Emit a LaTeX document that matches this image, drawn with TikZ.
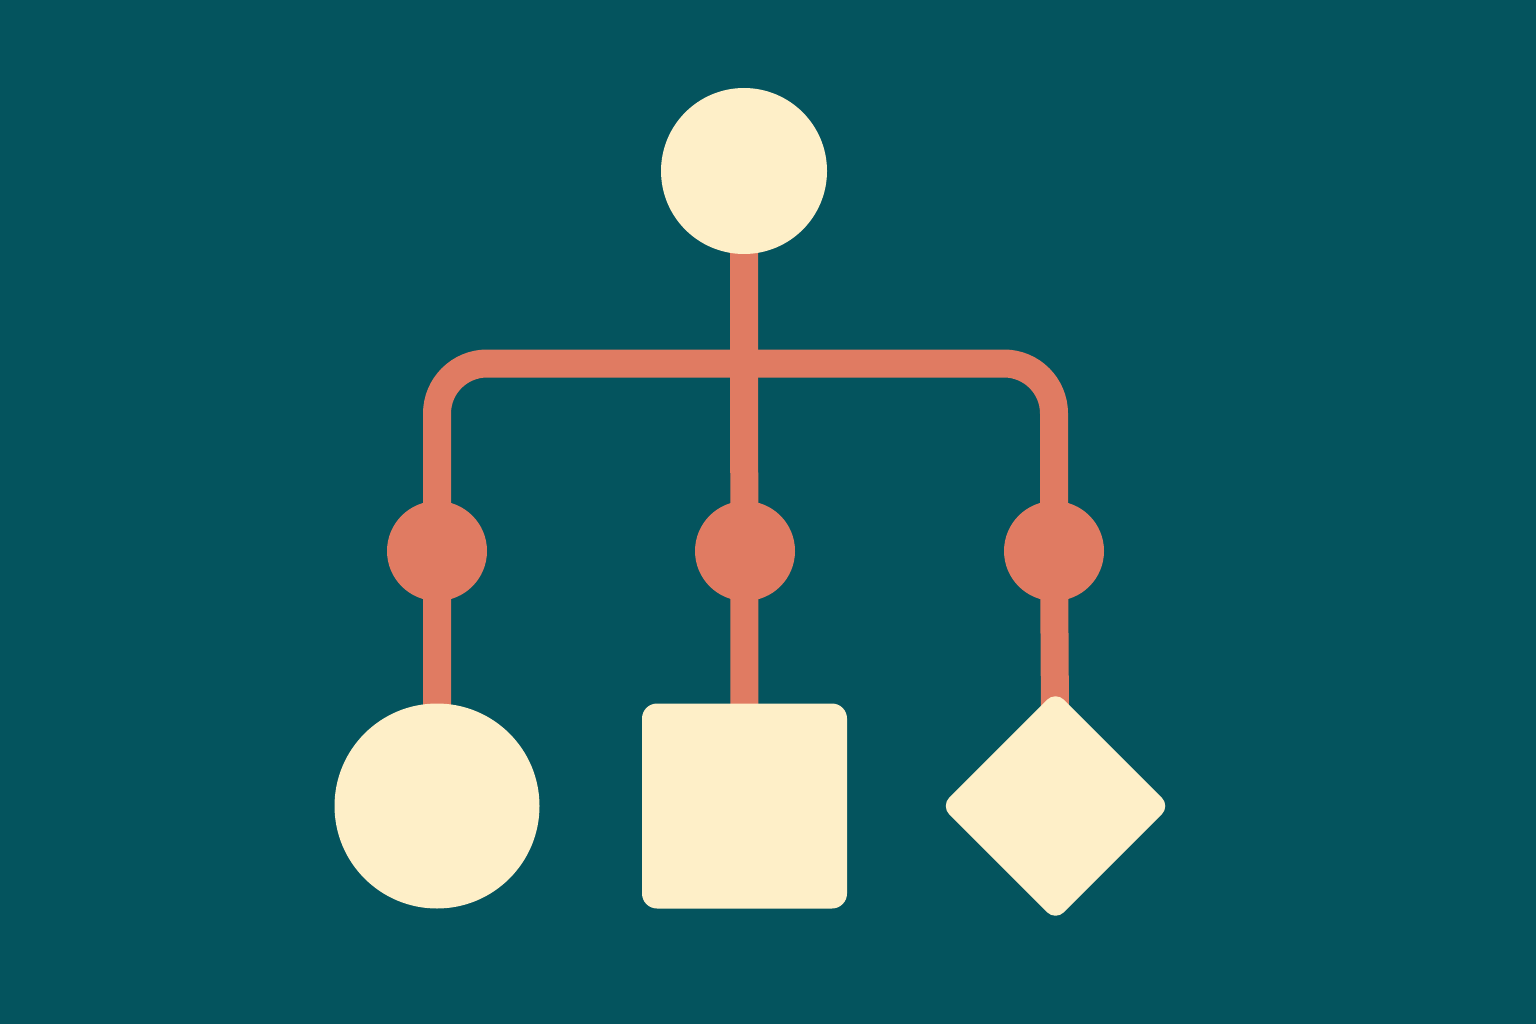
\documentclass[tikz,border=0pt]{standalone}
\usepackage{tikz}
\usetikzlibrary{shapes.geometric}

\definecolor{teal}{HTML}{04545E}
\definecolor{cream}{HTML}{FEEFC8}
\definecolor{coral}{HTML}{E07B62}

\pgfdeclarelayer{bg}
\pgfdeclarelayer{wires}
\pgfsetlayers{bg,wires,main}

\tikzset{
  leaf/.style={fill=cream, draw=none, inner sep=0pt},
  hub/.style={circle, fill=coral, draw=none, minimum size=1.0cm, inner sep=0pt},
  wire/.style={draw=coral, line width=0.28cm}
}

\begin{document}
\begin{tikzpicture}
 \begin{pgfonlayer}{bg}
  \fill[teal] (0,0) rectangle (15.36,10.24);
 \end{pgfonlayer}
 \useasboundingbox (0,0) rectangle (15.36,10.24);

 \node (root) [leaf, circle, minimum size=1.66cm] at (7.44,8.53) {};

 \node (hubL) [hub] at (4.37,4.73) {};
 \node (hubM) [hub] at (7.45,4.73) {};
 \node (hubR) [hub] at (10.54,4.73) {};

 \node (leafC) [leaf, circle, minimum size=2.05cm] at (4.37,2.18) {};
 \node (leafS) [leaf, rectangle, rounded corners=0.15cm, minimum size=2.05cm] at (7.445,2.18) {};
 \node (leafD) [leaf, diamond, rounded corners=0.12cm, minimum size=2.3cm] at (10.555,2.18) {};

 \coordinate (bar) at (7.45,6.605);

 \begin{pgfonlayer}{wires}
  \path[wire]
  (root.center) -- (leafS.center)
  (hubL.center) -- (leafC.center)
  (hubR.center) -- (leafD.center);
  \draw[wire, rounded corners=0.5cm]
  (hubL.center) -- (hubL |- bar) -- (hubR |- bar) -- (hubR.center);
 \end{pgfonlayer}
\end{tikzpicture}
\end{document}
